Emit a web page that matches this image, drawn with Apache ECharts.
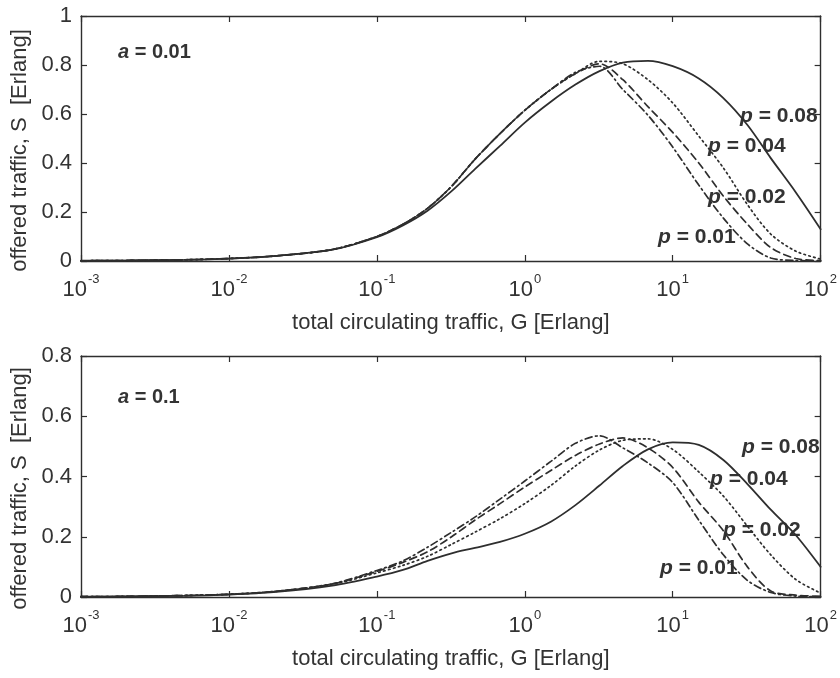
<!DOCTYPE html>
<html>
<head>
<meta charset="utf-8">
<script src="https://cdn.jsdelivr.net/npm/echarts@6/dist/echarts.min.js"></script>
<style>
html,body{margin:0;padding:0;background:#fff;}
#chart{width:840px;height:678px;}
</style>
</head>
<body>
<div id="chart"></div>
<script>
// total circulating traffic G [Erlang] (shared x grid, roughly even in log space)
const G = [0.001, 0.002, 0.005, 0.01, 0.02, 0.05, 0.1, 0.15, 0.22, 0.32, 0.46, 0.68, 1, 1.5, 2.2, 3.2, 4.6, 6.8, 10, 15, 22, 32, 46, 68, 100];

// Top panel, a = 0.01
const topP008 = [0.001, 0.002, 0.005, 0.01, 0.02, 0.046, 0.097, 0.145, 0.205, 0.285, 0.375, 0.47, 0.565, 0.65, 0.72, 0.775, 0.81, 0.817, 0.795, 0.745, 0.665, 0.555, 0.42, 0.28, 0.13];
const topP004 = [0.001, 0.002, 0.005, 0.01, 0.02, 0.047, 0.10, 0.15, 0.215, 0.305, 0.415, 0.52, 0.615, 0.70, 0.765, 0.815, 0.805, 0.74, 0.645, 0.51, 0.38, 0.23, 0.11, 0.04, 0.008];
const topP002 = [0.001, 0.002, 0.005, 0.01, 0.02, 0.047, 0.10, 0.15, 0.215, 0.305, 0.415, 0.52, 0.615, 0.70, 0.765, 0.805, 0.74, 0.63, 0.525, 0.40, 0.265, 0.15, 0.055, 0.01, 0.002];
const topP001 = [0.001, 0.002, 0.005, 0.01, 0.02, 0.047, 0.10, 0.15, 0.215, 0.305, 0.415, 0.52, 0.615, 0.70, 0.77, 0.795, 0.70, 0.595, 0.465, 0.31, 0.175, 0.07, 0.012, 0.002, 0.0];

// Bottom panel, a = 0.1
const botP008 = [0.001, 0.002, 0.004, 0.008, 0.016, 0.038, 0.068, 0.09, 0.12, 0.145, 0.163, 0.183, 0.21, 0.25, 0.305, 0.37, 0.435, 0.49, 0.513, 0.505, 0.455, 0.375, 0.29, 0.205, 0.10];
const botP004 = [0.001, 0.002, 0.005, 0.009, 0.018, 0.042, 0.08, 0.105, 0.135, 0.175, 0.215, 0.26, 0.31, 0.37, 0.435, 0.488, 0.52, 0.525, 0.49, 0.415, 0.335, 0.235, 0.14, 0.058, 0.013];
const botP002 = [0.001, 0.002, 0.005, 0.009, 0.018, 0.043, 0.085, 0.115, 0.15, 0.20, 0.255, 0.31, 0.365, 0.42, 0.47, 0.508, 0.528, 0.495, 0.43, 0.315, 0.22, 0.10, 0.02, 0.006, 0.002];
const botP001 = [0.001, 0.002, 0.005, 0.009, 0.018, 0.044, 0.088, 0.12, 0.165, 0.215, 0.265, 0.325, 0.385, 0.45, 0.51, 0.535, 0.495, 0.445, 0.38, 0.255, 0.14, 0.055, 0.015, 0.003, 0.001];

const seriesNames = ['p = 0.08', 'p = 0.04', 'p = 0.02', 'p = 0.01'];
const panelLabels = ['a = 0.01', 'a = 0.1'];
const xTitle = 'total circulating traffic, G [Erlang]';
const yTitle = 'offered traffic, S  [Erlang]';

const FONT = "'Liberation Sans', Arial, Helvetica, sans-serif";
const INK = '#2e2e2e';
const TXT = '#333333';

const dashStyles = ['solid', [1.6, 3.4], [7, 4.5], [7, 3.5, 1.6, 3.5]];

function pairs(ys) { return G.map((g, i) => [g, ys[i]]); }

function xAxes(gi) {
  const common = {
    gridIndex: gi, type: 'log', logBase: 10, min: 0.001, max: 100, splitNumber: 5,
    axisLine: { show: true, onZero: false, lineStyle: { color: INK, width: 1.4 } },
    axisTick: { show: true, inside: true, length: 6, lineStyle: { color: INK, width: 1.2 } },
    minorTick: { show: false }, splitLine: { show: false }
  };
  return [
    Object.assign({}, common, {
      position: 'bottom',
      name: xTitle, nameLocation: 'middle', nameGap: 51,
      nameTextStyle: { fontFamily: FONT, fontSize: 22, color: TXT },
      axisLabel: {
        margin: 18,
        formatter: v => '{b|10}{s|' + Math.round(Math.log10(v)) + '}',
        rich: {
          b: { fontFamily: FONT, fontSize: 22, color: TXT, lineHeight: 22, verticalAlign: 'bottom' },
          s: { fontFamily: FONT, fontSize: 13, color: TXT, lineHeight: 13, padding: [0, 0, 15, 1], verticalAlign: 'bottom' }
        }
      }
    }),
    Object.assign({}, common, { position: 'top', axisLabel: { show: false } })
  ];
}

function yAxes(gi, max) {
  const common = {
    gridIndex: gi, type: 'value', min: 0, max: max, interval: 0.2,
    axisLine: { show: true, onZero: false, lineStyle: { color: INK, width: 1.4 } },
    axisTick: { show: true, inside: true, length: 6, lineStyle: { color: INK, width: 1.2 } },
    splitLine: { show: false }
  };
  return [
    Object.assign({}, common, {
      position: 'left',
      name: yTitle, nameLocation: 'middle', nameGap: 46,
      nameTextStyle: { fontFamily: FONT, fontSize: 22, color: TXT, padding: [0, 24, 0, 0] },
      axisLabel: { margin: 9, fontFamily: FONT, fontSize: 22, color: TXT,
        formatter: v => (Math.abs(v) < 1e-9 ? '0' : (Math.abs(v - 1) < 1e-9 ? '1' : v.toFixed(1))) }
    }),
    Object.assign({}, common, { position: 'right', axisLabel: { show: false } })
  ];
}

const panels = [
  { data: [topP008, topP004, topP002, topP001] },
  { data: [botP008, botP004, botP002, botP001] }
];

const series = [];
panels.forEach((pnl, gi) => {
  pnl.data.forEach((ys, k) => {
    series.push({
      type: 'line', name: seriesNames[k] + (gi ? ' (a=0.1)' : ' (a=0.01)'),
      xAxisIndex: gi * 2, yAxisIndex: gi * 2,
      data: pairs(ys), showSymbol: false, symbol: 'none',
      smooth: 0.3, clip: true,
      lineStyle: { color: INK, width: k === 0 ? 1.8 : 1.7, type: dashStyles[k], cap: 'round' },
      emphasis: { disabled: true }, silent: true
    });
  });
});

function label(x, y, sym, rest, size) {
  return {
    type: 'text', x: x, y: y, silent: true,
    style: {
      text: '{i|' + sym + '}{n|' + rest + '}',
      verticalAlign: 'middle', align: 'left',
      fontFamily: FONT, fontSize: size, fontWeight: 'bold', fill: TXT,
      rich: {
        i: { fontFamily: FONT, fontSize: size, fontWeight: 'bold', fontStyle: 'italic', color: TXT },
        n: { fontFamily: FONT, fontSize: size, fontWeight: 'bold', color: TXT }
      }
    }
  };
}
function splitLabel(s) { return [s.charAt(0), s.slice(1)]; }

const annPos = [
  [[740, 116], [708, 146], [708, 197], [658, 237]],
  [[742, 447], [710, 479], [723, 530], [660, 568]]
];
const aPos = [[118, 52], [118, 397]];

const graphics = [];
[0, 1].forEach(gi => {
  seriesNames.forEach((nm, k) => {
    const [s, r] = splitLabel(nm);
    graphics.push(label(annPos[gi][k][0], annPos[gi][k][1], s, r, 21));
  });
  const [s, r] = splitLabel(panelLabels[gi]);
  graphics.push(label(aPos[gi][0], aPos[gi][1], s, r, 20));
});

const chart = echarts.init(document.getElementById('chart'), null, { renderer: 'canvas' });
chart.setOption({
  backgroundColor: '#ffffff',
  animation: false,
  grid: [
    { left: 81, top: 16, width: 740, height: 245, containLabel: false },
    { left: 81, top: 356, width: 740, height: 241, containLabel: false }
  ],
  xAxis: xAxes(0).concat(xAxes(1)),
  yAxis: yAxes(0, 1).concat(yAxes(1, 0.8)),
  series: series,
  graphic: graphics
});
</script>
</body>
</html>
